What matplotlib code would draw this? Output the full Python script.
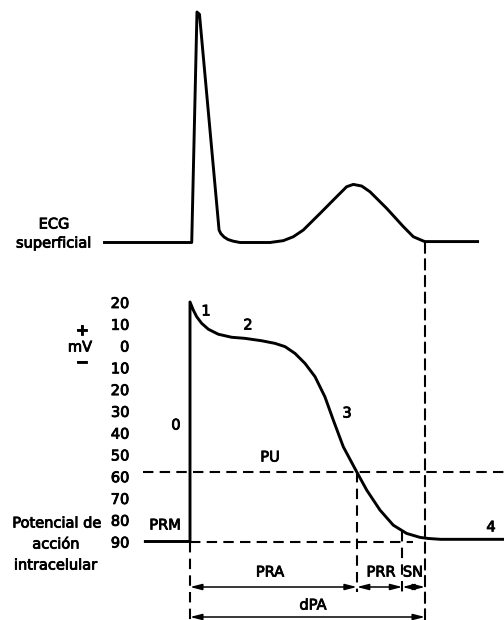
import matplotlib
matplotlib.use("Agg")
import matplotlib.pyplot as plt
import matplotlib.patheffects as pe
from matplotlib.patches import ConnectionPatch

# ---------------- data ----------------
# surface ECG (time in ms, amplitude in arbitrary units, R peak = 1)
ecg_t = [-111, 2.2, 8.9, 12.1, 37.1, 39.3, 43.4, 48.5, 54.9, 63.8, 102.1, 119.1,
         131.9, 144.6, 166.0, 187.3, 200.0, 208.5, 219.2, 229.8, 251.1, 272.3,
         285.1, 297.8, 300, 369]
ecg_v = [0, 0, 1.0, 0.99, 0.054, 0.039, 0.024, 0.013, 0.006, 0, 0, 0.008,
         0.025, 0.054, 0.126, 0.199, 0.242, 0.252, 0.245, 0.220, 0.148, 0.069,
         0.025, 0.0065, 0.004, 0.004]

# intracellular action potential (time in ms, mV)
ap_t = [-57, 0, 0, 4.2, 8.6, 14.9, 23.4, 36.1, 53.2, 70.2, 91.5, 108.5, 121.3,
        134.0, 146.8, 159.6, 172.3, 182.9, 195.7, 212.8, 225.6, 242.6, 259.5,
        276.6, 293.6, 303.8, 320, 401]
ap_v = [-90, -90, 20, 16.3, 13.2, 10.2, 7.5, 5.2, 3.8, 3.3, 2.2, 1.0, -0.5,
        -3.6, -8.2, -14.3, -23.6, -34.2, -46.5, -58.0, -66.4, -75.6, -82.5,
        -86.3, -88.1, -88.6, -89, -89]

mv_ticks = [20, 10, 0, -10, -20, -30, -40, -50, -60, -70, -80, -90]
mv_labels = [str(abs(v)) for v in mv_ticks]

pu_level = -58          # umbral (PU)
rest_level = -90        # potencial de reposo (PRM)
t_pra = 213             # fin del periodo refractario absoluto
t_sn = 271              # inicio del periodo supernormal
t_end = 300             # fin del potencial de accion
sn_start_mv = -85

intervals = [("PRA", 0, t_pra), ("PRR", t_pra, t_sn), ("SN", t_sn, t_end)]
total_label = ("dPA", 0, t_end)

# ---------------- figure ----------------
W, H = 504, 620
plt.rcParams['font.family'] = ['DejaVu Sans']
FS = 10.5
thick = [pe.withStroke(linewidth=0.6, foreground='black')]
fig = plt.figure(figsize=(W / 100, H / 100), dpi=100)

ms_per_px = 300 / 235.0
def px2t(px):
    return (px - 190) * ms_per_px

# ECG axes spans full figure
ax_e = fig.add_axes([0, 0, 1, 1])
ax_e.set_xlim(px2t(0), px2t(W))
ecg_scale = 230.5
ax_e.set_ylim(-(H - 242.5) / ecg_scale, 1 + 12 / ecg_scale)
ax_e.axis('off')
ax_e.plot(ecg_t, ecg_v, color='black', lw=2.1, solid_joinstyle='round',
          solid_capstyle='butt')

# AP axes
left_px = 135
ax = fig.add_axes([left_px / W, 0, (W - left_px) / W, 1])
ax.patch.set_alpha(0)
ax.set_xlim(px2t(left_px), px2t(W))
mv_scale = 239.5 / 110
ax.set_ylim(-90 - (H - 541.5) / mv_scale, 20 + 302 / mv_scale)
for s in ax.spines.values():
    s.set_visible(False)
ax.set_xticks([])
ax.set_yticks(mv_ticks)
ax.set_yticklabels(mv_labels)
ax.tick_params(axis='y', length=0, pad=4, labelsize=FS)
for lab in ax.get_yticklabels():
    lab.set_path_effects(thick)

ax.plot(ap_t, ap_v, color='black', lw=2.1, solid_joinstyle='round', zorder=3)

dash = dict(color='black', lw=1.5, linestyle=(0, (5, 3)))
ybot = ax.get_ylim()[0]
y_arrow1 = -90 - (587 - 541.5) / mv_scale
y_arrow2 = -90 - (617 - 541.5) / mv_scale
y_vbot = -90 - (592 - 541.5) / mv_scale

# horizontal dashed lines
ax.plot([px2t(143), px2t(W)], [pu_level, pu_level], **dash)
ax.plot([0, t_end - 15], [rest_level, rest_level], **dash)
# vertical dashed lines
ax.plot([0, 0], [rest_level, ybot], **dash)
ax.plot([t_pra, t_pra], [pu_level, y_vbot], **dash)
ax.plot([t_sn, t_sn], [sn_start_mv, y_vbot], **dash)
con = ConnectionPatch(xyA=(t_end, 0), coordsA=ax_e.transData,
                      xyB=(t_end, ybot), coordsB=ax.transData,
                      color='black', lw=1.5, linestyle=(0, (5, 3)))
fig.add_artist(con)

arrow_kw = dict(arrowstyle='<|-|>,head_length=0.7,head_width=0.18',
                color='black', lw=1.1, shrinkA=0, shrinkB=0, mutation_scale=10)
for name, a, b in intervals:
    ax.annotate('', xy=(b, y_arrow1), xytext=(a, y_arrow1), arrowprops=arrow_kw)
ax.annotate('', xy=(total_label[2], y_arrow2), xytext=(total_label[1], y_arrow2),
            arrowprops=arrow_kw)

# ---------------- text (figure pixel positions) ----------------
def ftext(x, y, s, ha='center', size=FS, **kw):
    t = fig.text(x / W, 1 - y / H, s, ha=ha, va='center', fontsize=size, **kw)
    t.set_path_effects(thick)

ftext(54, 224, "ECG")
ftext(54, 243, "superficial")
ftext(82, 330, "+")
ftext(80, 347, "mV")
ftext(82, 362, "\u2212")
ftext(176, 425, "0")
ftext(206, 311, "1")
ftext(248, 325, "2")
ftext(347, 413, "3")
ftext(491, 527, "4")
ftext(270, 457, "PU")
ftext(165, 525, "PRM")
ftext(57, 523, "Potencial de")
ftext(56, 544, "acción")
ftext(56, 565, "intracelular")
ftext(270, 572, "PRA")
ftext(381, 572, "PRR")
ftext(413, 572, "SN")
ftext(313, 605, "dPA")

fig.savefig("out.png", dpi=100)
